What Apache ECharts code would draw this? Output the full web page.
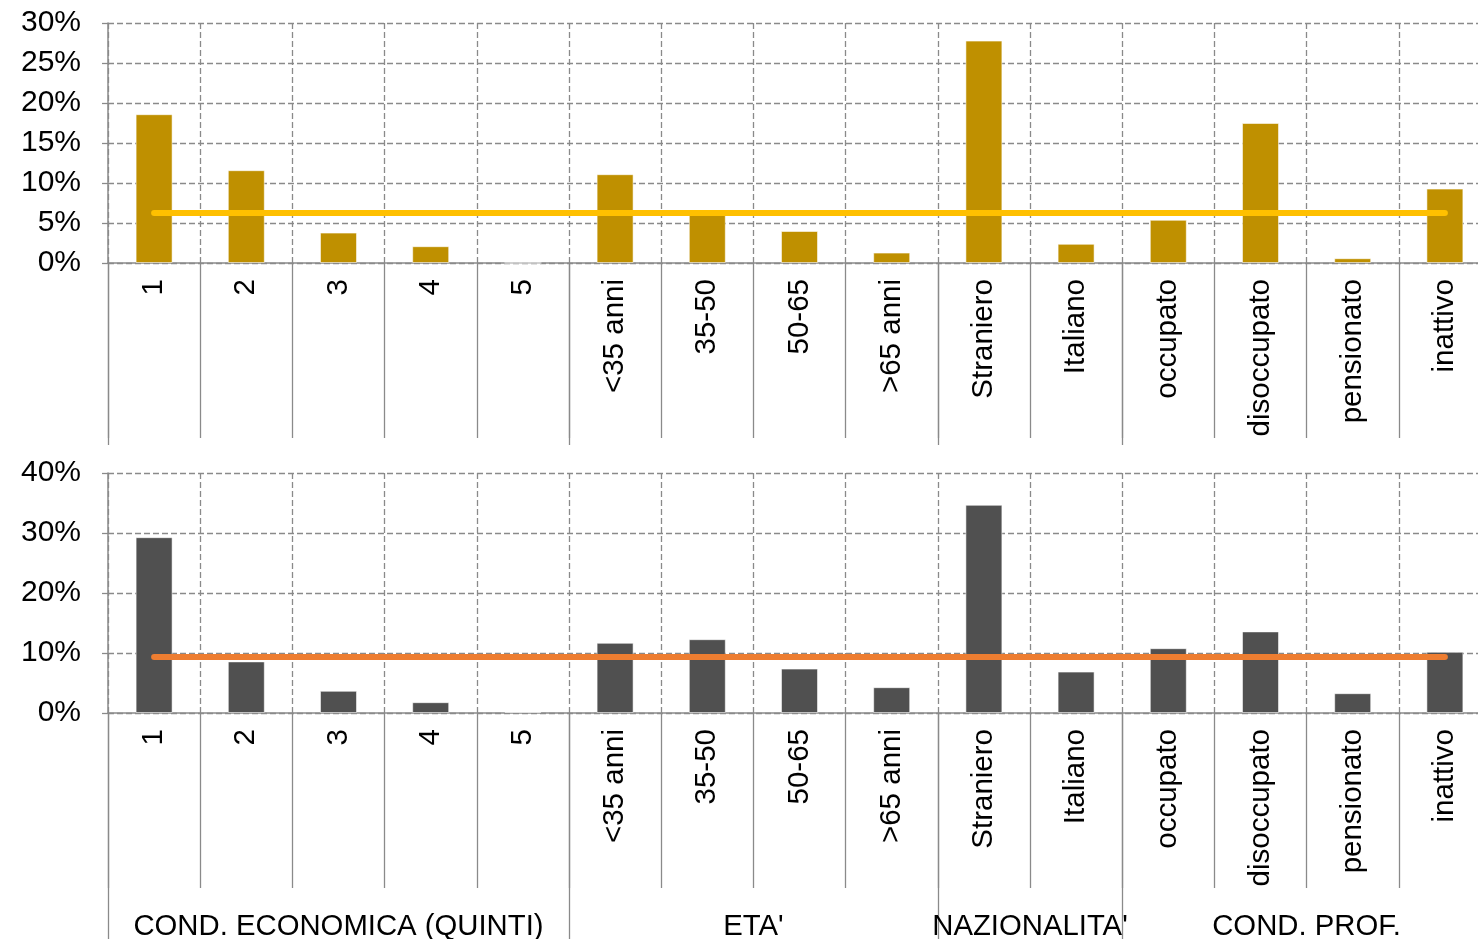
<!DOCTYPE html>
<html>
<head>
<meta charset="utf-8">
<script src="https://cdn.jsdelivr.net/npm/echarts@6/dist/echarts.min.js"></script>
<style>
  body { margin: 0; overflow: hidden; background: #fff; }
  #chart { width: 1478px; height: 939px; }
</style>
</head>
<body>
<div id="chart"></div>
<script>
var categories = ['1', '2', '3', '4', '5', '<35 anni', '35-50', '50-65', '>65 anni',
                  'Straniero', 'Italiano', 'occupato', 'disoccupato', 'pensionato', 'inattivo'];
var groups = ['COND. ECONOMICA (QUINTI)', "ETA'", "NAZIONALITA'", 'COND. PROF.'];
var groupSizes = [5, 4, 2, 4];

var topValues = [18.6, 11.6, 3.8, 2.1, 0, 11.1, 6.7, 4.0, 1.3, 27.8, 2.4, 5.4, 17.5, 0.6, 9.3];
var topAverage = 6.3;
var bottomValues = [29.3, 8.6, 3.7, 1.8, 0.2, 11.7, 12.3, 7.4, 4.3, 34.7, 6.9, 10.8, 13.6, 3.3, 10.2];
var bottomAverage = 9.3;

var topTicks = { min: 0, max: 30, interval: 5 };
var bottomTicks = { min: 0, max: 40, interval: 10 };

// group axis: half-category slots, so group borders and centres fall on points
var halfSlots = [], groupBorders = [0], groupCentres = [];
var pos = 0;
for (var i = 0; i <= categories.length * 2; i++) halfSlots.push('');
groups.forEach(function (g, i) {
    groupCentres.push(pos * 2 + groupSizes[i]);
    halfSlots[pos * 2 + groupSizes[i]] = g;
    pos += groupSizes[i];
    groupBorders.push(pos * 2);
});

var FONT = 'Liberation Sans, Arial, sans-serif';
var GRAY = '#8a8a8a';

function panel(idx, top, ticks, values, avg, barColor, lineColor, showGroups) {
    // plot runs past the right edge of the page, like the original
    var grid = { left: 108, top: top, width: 1383, height: 240, outerBoundsMode: 'none', containLabel: false };
    var xCat = {
        type: 'category', gridIndex: idx, data: categories, position: 'bottom',
        axisLine: { show: true, lineStyle: { color: GRAY, width: 1.5 } },
        axisTick: { show: true, interval: 0, length: 175, lineStyle: { color: GRAY, width: 1.3 } },
        splitLine: { show: true, interval: 0, lineStyle: { color: GRAY, type: [6, 3], width: 1.3 } },
        axisLabel: { rotate: 90, margin: 16, color: '#000', fontSize: 29.5, fontFamily: FONT, interval: 0 }
    };
    var xGroup = {
        type: 'category', gridIndex: idx, data: halfSlots, boundaryGap: false, position: 'bottom',
        axisLine: { show: false },
        axisTick: {
            show: true,
            length: showGroups ? 226 : 182,
            interval: function (i) { return groupBorders.indexOf(i) >= 0; },
            lineStyle: { color: GRAY, width: 1.3 }
        },
        splitLine: { show: false },
        axisLabel: {
            show: showGroups, margin: 199, color: '#000', fontSize: 29.3, fontFamily: FONT,
            interval: function (i) { return groupCentres.indexOf(i) >= 0; }
        }
    };
    var y = {
        type: 'value', gridIndex: idx, min: ticks.min, max: ticks.max, interval: ticks.interval,
        axisLine: { show: true, lineStyle: { color: GRAY, width: 1.5 } },
        axisTick: { show: true, length: 8, lineStyle: { color: GRAY, type: [6, 3], width: 1.3 } },
        splitLine: { show: true, lineStyle: { color: GRAY, type: [6, 3], width: 1.3 } },
        axisLabel: { formatter: '{value}%', margin: 27, color: '#000', fontSize: 30, fontFamily: FONT }
    };
    var s = {
        type: 'bar', xAxisIndex: idx * 2, yAxisIndex: idx, data: values, barWidth: 37,
        itemStyle: { color: barColor, borderColor: 'rgba(255,255,255,0.55)', borderWidth: 1 },
        markLine: {
            silent: true, symbol: 'none', label: { show: false },
            lineStyle: { color: lineColor, width: 6, type: 'solid', cap: 'round' },
            data: [[{ xAxis: 0, yAxis: avg }, { xAxis: categories.length - 1, yAxis: avg }]]
        }
    };
    return { grid: grid, x: [xCat, xGroup], y: y, series: s };
}

var p1 = panel(0, 23, topTicks, topValues, topAverage, '#BF9000', '#FFC000', false);
var p2 = panel(1, 473, bottomTicks, bottomValues, bottomAverage, '#505050', '#ED7D31', true);

var chart = echarts.init(document.getElementById('chart'), null, { renderer: 'canvas' });
chart.setOption({
    animation: false,
    grid: [p1.grid, p2.grid],
    xAxis: p1.x.concat(p2.x),
    yAxis: [p1.y, p2.y],
    series: [p1.series, p2.series]
});
</script>
</body>
</html>
